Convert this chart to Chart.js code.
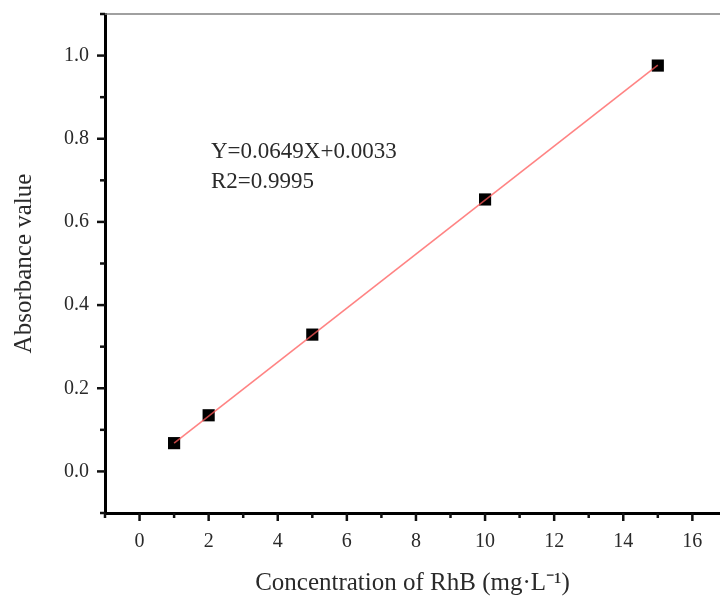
<!DOCTYPE html>
<html>
<head>
<meta charset="utf-8">
<script src="https://cdn.jsdelivr.net/npm/chart.js@4.4.1/dist/chart.umd.min.js"></script>
<style>
  html, body { margin: 0; padding: 0; background: #fff; overflow: hidden; }
  #wrap { width: 720px; height: 598px; position: relative; }
</style>
</head>
<body>
<div id="wrap"><canvas id="grafica"></canvas></div>
<script>
// datos
const concentraciones = [1, 2, 5, 10, 15];
const absorbancias = [0.068, 0.135, 0.329, 0.654, 0.976];
// recta de ajuste (extremos leidos)
const ajusteX = [1, 15];
const ajusteY = [0.068, 0.977];
// etiquetas de los ejes
const marcasX = [0, 2, 4, 6, 8, 10, 12, 14, 16];
const marcasY = [0.0, 0.2, 0.4, 0.6, 0.8, 1.0];
const textoEcuacion = 'Y=0.0649X+0.0033';
const textoR2 = 'R2=0.9995';
const tituloX = 'Concentration of RhB (mg\u00b7L\u207b\u00b9)';
const tituloY = 'Absorbance value';

const fuente = 'Liberation Serif, Times New Roman, serif';
const colorTexto = '#2a2a2a';

//dibuja las marcas de los ejes (mayores y menores), el borde superior y el texto
const marcasEjes = {
    id: 'marcasEjes',
    afterDraw(chart) {
        const {ctx, chartArea: {top, bottom, left, right}, scales: {x, y}} = chart;
        ctx.save();
        ctx.strokeStyle = '#111';
        ctx.lineWidth = 2.5;
        for (let v = -1; v <= 16; v++) {
            const px = x.getPixelForValue(v);
            const largo = v % 2 === 0 ? 8 : 5;
            ctx.beginPath();
            ctx.moveTo(px, bottom);
            ctx.lineTo(px, bottom + largo);
            ctx.stroke();
        }
        for (let i = -1; i <= 11; i++) {
            const py = y.getPixelForValue(i / 10);
            const largo = i % 2 === 0 ? 8 : 5;
            ctx.beginPath();
            ctx.moveTo(left, py);
            ctx.lineTo(left - largo, py);
            ctx.stroke();
        }
        // borde superior
        ctx.strokeStyle = '#808080';
        ctx.lineWidth = 1.5;
        ctx.beginPath();
        ctx.moveTo(left, top);
        ctx.lineTo(chart.width, top);
        ctx.stroke();
        // texto de la ecuacion
        ctx.fillStyle = colorTexto;
        ctx.font = '23px ' + fuente;
        ctx.textBaseline = 'middle';
        ctx.fillText(textoEcuacion, 211, 152);
        ctx.fillText(textoR2, 211, 182);
        ctx.restore();
    }
};

let datos = {
    datasets: [
        {
            label: 'ajuste',
            data: ajusteX.map((v, i) => ({x: v, y: ajusteY[i]})),
            showLine: true,
            borderColor: 'rgba(255,90,90,0.75)',
            borderWidth: 1.6,
            pointRadius: 0,
            order: 0
        },
        {
            label: 'datos',
            data: concentraciones.map((v, i) => ({x: v, y: absorbancias[i]})),
            showLine: false,
            pointStyle: 'rect',
            pointRadius: 8.6,
            backgroundColor: '#000',
            borderColor: '#000',
            borderWidth: 0,
            order: 1
        }
    ]
};

let opciones = {
    responsive: true,
    maintainAspectRatio: false,
    animation: false,
    layout: {autoPadding: false, padding: {top: 14, left: 0, right: 0, bottom: 0}},
    plugins: {
        legend: {display: false},
        tooltip: {enabled: false}
    },
    scales: {
        x: {
            type: 'linear',
            min: -1,
            max: 16.8,
            afterFit(scale) {
                scale.height = 85;
                scale.paddingLeft = 0;
                scale.paddingRight = 0;
            },
            afterBuildTicks(scale) {
                scale.ticks = marcasX.map(v => ({value: v}));
            },
            grid: {display: false},
            border: {display: true, color: '#000', width: 3},
            ticks: {
                padding: 9,
                color: colorTexto,
                font: {family: fuente, size: 20},
                maxRotation: 0,
                autoSkip: false
            },
            title: {
                display: true,
                text: tituloX,
                color: colorTexto,
                font: {family: fuente, size: 25},
                padding: {top: 0, bottom: 0}
            }
        },
        y: {
            type: 'linear',
            min: -0.1,
            max: 1.1,
            afterFit(scale) {
                scale.width = 105;
                scale.paddingTop = 0;
                scale.paddingBottom = 0;
            },
            afterBuildTicks(scale) {
                scale.ticks = marcasY.map(v => ({value: v}));
            },
            grid: {display: false},
            border: {display: true, color: '#000', width: 3},
            ticks: {
                padding: 8,
                color: colorTexto,
                font: {family: fuente, size: 20},
                callback: function (value) {
                    return value.toFixed(1);
                }
            },
            title: {
                display: true,
                text: tituloY,
                color: colorTexto,
                font: {family: fuente, size: 25},
                padding: {top: 9, bottom: 0}
            }
        }
    }
};

var referenciaContenedor = document.getElementById('grafica');
let miGrafica = new Chart(referenciaContenedor, {
    type: 'scatter',
    data: datos,
    options: opciones,
    plugins: [marcasEjes]
});
</script>
</body>
</html>
